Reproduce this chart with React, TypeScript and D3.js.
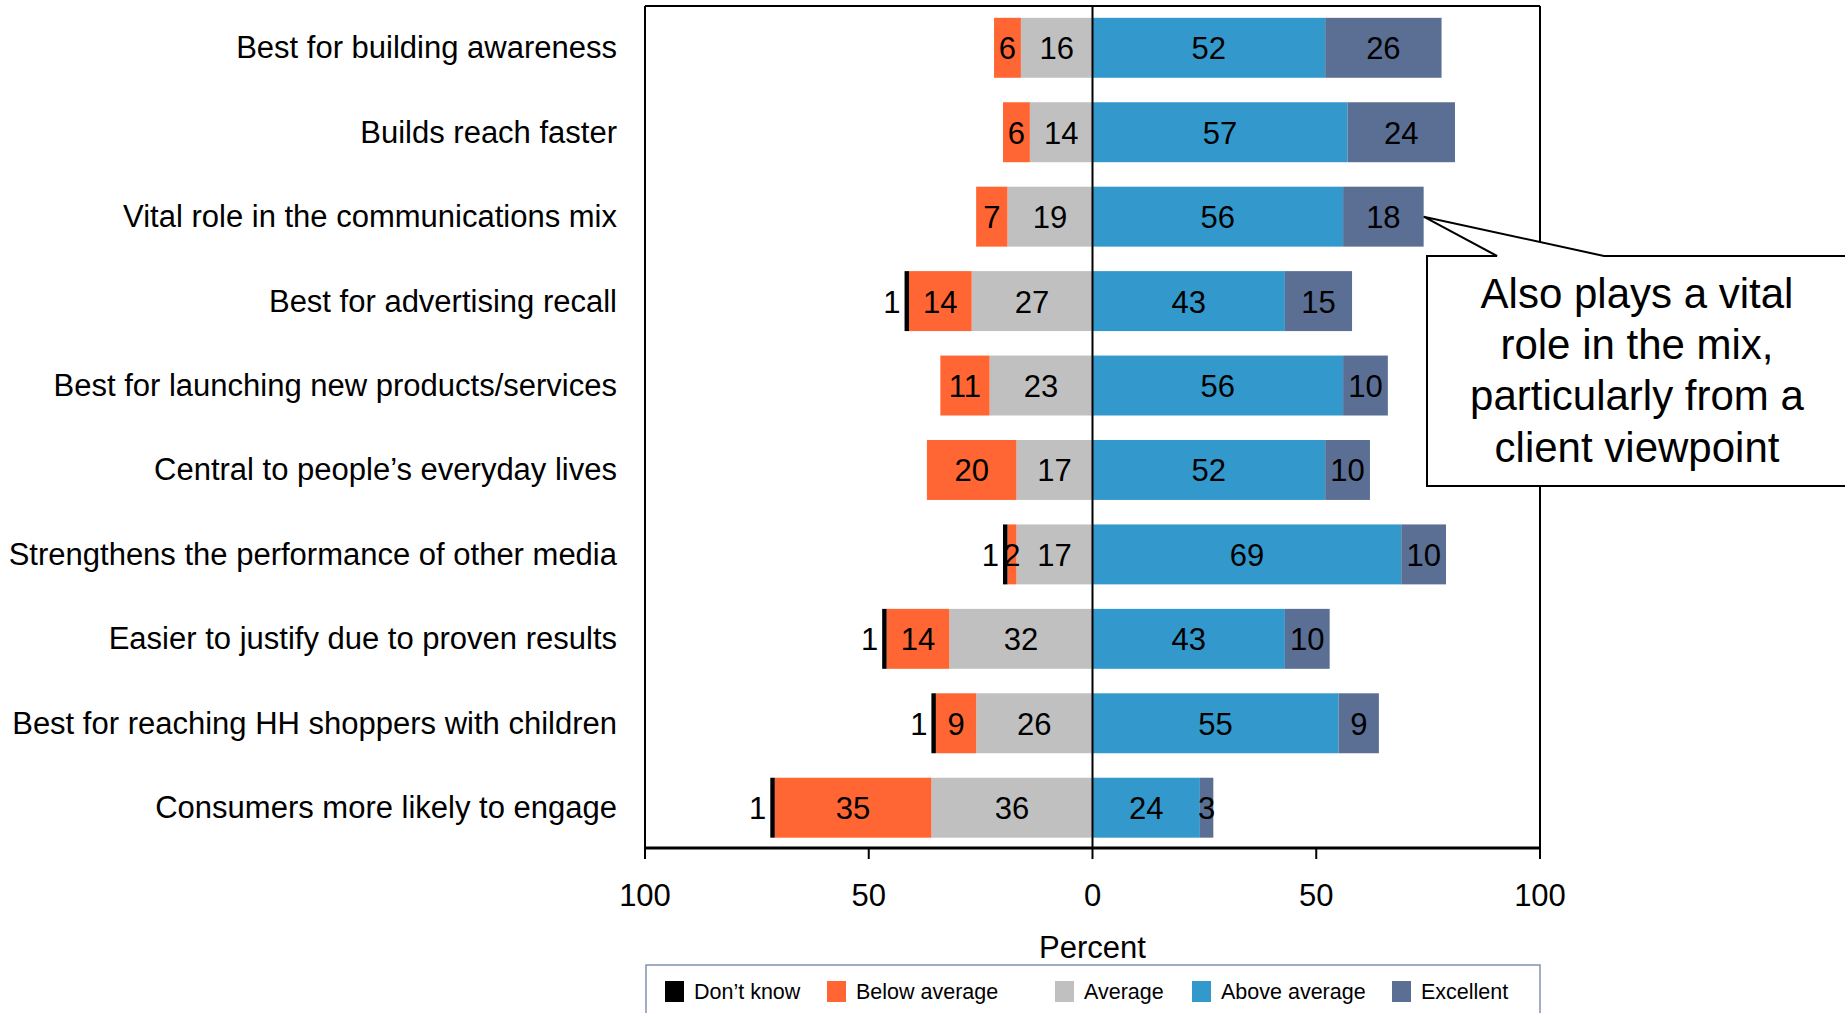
import React from "react";
import * as d3 from "d3";

const categories = [
  "Best for building awareness",
  "Builds reach faster",
  "Vital role in the communications mix",
  "Best for advertising recall",
  "Best for launching new products/services",
  "Central to people\u2019s everyday lives",
  "Strengthens the performance of other media",
  "Easier to justify due to proven results",
  "Best for reaching HH shoppers with children",
  "Consumers more likely to engage",
];
const dontKnow = [0, 0, 0, 1, 0, 0, 1, 1, 1, 1];
const belowAverage = [6, 6, 7, 14, 11, 20, 2, 14, 9, 35];
const average = [16, 14, 19, 27, 23, 17, 17, 32, 26, 36];
const aboveAverage = [52, 57, 56, 43, 56, 52, 69, 43, 55, 24];
const excellent = [26, 24, 18, 15, 10, 10, 10, 10, 9, 3];
const xTicks = [-100, -50, 0, 50, 100];
const legendLabels = ["Don\u2019t know", "Below average", "Average", "Above average", "Excellent"];
const calloutLines = ["Also plays a vital", "role in the mix,", "particularly from a", "client viewpoint"];

const COLORS = {
  dk: "#000000",
  below: "#FF6633",
  avg: "#C0C0C0",
  above: "#3399CC",
  exc: "#5A6F93",
};

const W = 1845;
const H = 1013;
const FONT = "'Liberation Sans', Arial, sans-serif";

export default function App() {
  const left = 645;
  const right = 1540;
  const top = 6;
  const bottom = 847;

  const x = d3.scaleLinear().domain([-100, 100]).range([left, right]);
  const y = d3
    .scaleBand<string>()
    .domain(categories)
    .range([top, bottom + 2.5])
    .paddingInner(0.29)
    .paddingOuter(0.14);
  const bw = y.bandwidth();

  type Seg = { x0: number; x1: number; color: string; v: number; kind: string };
  const rows = categories.map((c, i) => {
    const segs: Seg[] = [];
    const a = average[i];
    const b = belowAverage[i];
    const d = dontKnow[i];
    const ab = aboveAverage[i];
    const e = excellent[i];
    segs.push({ x0: -a, x1: 0, color: COLORS.avg, v: a, kind: "avg" });
    segs.push({ x0: -a - b, x1: -a, color: COLORS.below, v: b, kind: "below" });
    if (d > 0) segs.push({ x0: -a - b - d, x1: -a - b, color: COLORS.dk, v: d, kind: "dk" });
    segs.push({ x0: 0, x1: ab, color: COLORS.above, v: ab, kind: "above" });
    segs.push({ x0: ab, x1: ab + e, color: COLORS.exc, v: e, kind: "exc" });
    return { c, i, segs };
  });

  const legendColors = [COLORS.dk, COLORS.below, COLORS.avg, COLORS.above, COLORS.exc];
  const legendSwatchX = [665, 827, 1055, 1192, 1392];

  // callout
  const tipX = x(aboveAverage[2] + excellent[2]);
  const tipY = (y(categories[2]) ?? 0) + bw / 2;
  const boxL = 1427;
  const boxT = 256;
  const boxR = 1847;
  const boxB = 486;
  const calloutPath = `M${1497},${boxT} L${tipX},${tipY} L${1604},${boxT} L${boxR},${boxT} L${boxR},${boxB} L${boxL},${boxB} L${boxL},${boxT} Z`;

  return (
    <svg
      width={W}
      height={H}
      style={{ position: "absolute", left: 0, top: 0, background: "#fff" }}
      fontFamily={FONT}
    >
      <rect x={0} y={0} width={W} height={H} fill="#fff" />
      {/* bars */}
      {rows.map((r) => {
        const y0 = y(r.c) ?? 0;
        return (
          <g key={r.c}>
            {r.segs.map((s) => (
              <rect
                key={s.kind}
                x={x(s.x0)}
                y={y0}
                width={x(s.x1) - x(s.x0)}
                height={bw}
                fill={s.color}
              />
            ))}
          </g>
        );
      })}
      {/* plot frame */}
      <line x1={left} x2={left} y1={top} y2={bottom} stroke="#000" strokeWidth={2} />
      <line x1={right} x2={right} y1={top} y2={bottom} stroke="#000" strokeWidth={2} />
      <line x1={left} x2={right} y1={top} y2={top} stroke="#000" strokeWidth={2} />
      <line x1={x(0)} x2={x(0)} y1={top} y2={bottom} stroke="#000" strokeWidth={2} />
      <line x1={left - 1} x2={right + 1} y1={bottom + 1} y2={bottom + 1} stroke="#000" strokeWidth={3} />
      {xTicks.map((t) => (
        <g key={t}>
          <line x1={x(t)} x2={x(t)} y1={bottom} y2={bottom + 12} stroke="#000" strokeWidth={2} />
          <text
            x={x(t)}
            y={895}
            textAnchor="middle"
            dominantBaseline="central"
            fontSize={31}
            fill="#000"
          >
            {Math.abs(t)}
          </text>
        </g>
      ))}
      <text x={x(0)} y={947} textAnchor="middle" dominantBaseline="central" fontSize={31} fill="#000">
        Percent
      </text>
      {/* value labels */}
      {rows.map((r) => {
        const cy = (y(r.c) ?? 0) + bw / 2 + 1;
        return (
          <g key={r.c + "-lbl"}>
            {r.segs.map((s) =>
              s.kind === "dk" ? (
                <text
                  key={s.kind}
                  x={x(s.x0) - 4}
                  y={cy}
                  textAnchor="end"
                  dominantBaseline="central"
                  fontSize={31}
                  fill="#000"
                >
                  {s.v}
                </text>
              ) : (
                <text
                  key={s.kind}
                  x={(x(s.x0) + x(s.x1)) / 2}
                  y={cy}
                  textAnchor="middle"
                  dominantBaseline="central"
                  fontSize={31}
                  fill="#000"
                >
                  {s.v}
                </text>
              )
            )}
          </g>
        );
      })}
      {/* category labels */}
      {categories.map((c) => (
        <text
          key={c}
          x={617}
          y={(y(c) ?? 0) + bw / 2}
          textAnchor="end"
          dominantBaseline="central"
          fontSize={31}
          fill="#000"
        >
          {c}
        </text>
      ))}
      {/* legend */}
      <rect x={646} y={965} width={894} height={70} fill="#fff" stroke="#8394AD" strokeWidth={1.5} />
      {legendLabels.map((l, i) => (
        <g key={l}>
          <rect x={legendSwatchX[i]} y={981} width={19} height={21} fill={legendColors[i]} />
          <text
            x={legendSwatchX[i] + 29}
            y={992}
            dominantBaseline="central"
            fontSize={21.5}
            fill="#000"
          >
            {l}
          </text>
        </g>
      ))}
      {/* callout */}
      <path d={calloutPath} fill="#fff" stroke="#000" strokeWidth={2} />
      {calloutLines.map((t, i) => (
        <text
          key={t}
          x={1637}
          y={293 + i * 51.4}
          textAnchor="middle"
          dominantBaseline="central"
          fontSize={42}
          fill="#000"
        >
          {t}
        </text>
      ))}
    </svg>
  );
}
